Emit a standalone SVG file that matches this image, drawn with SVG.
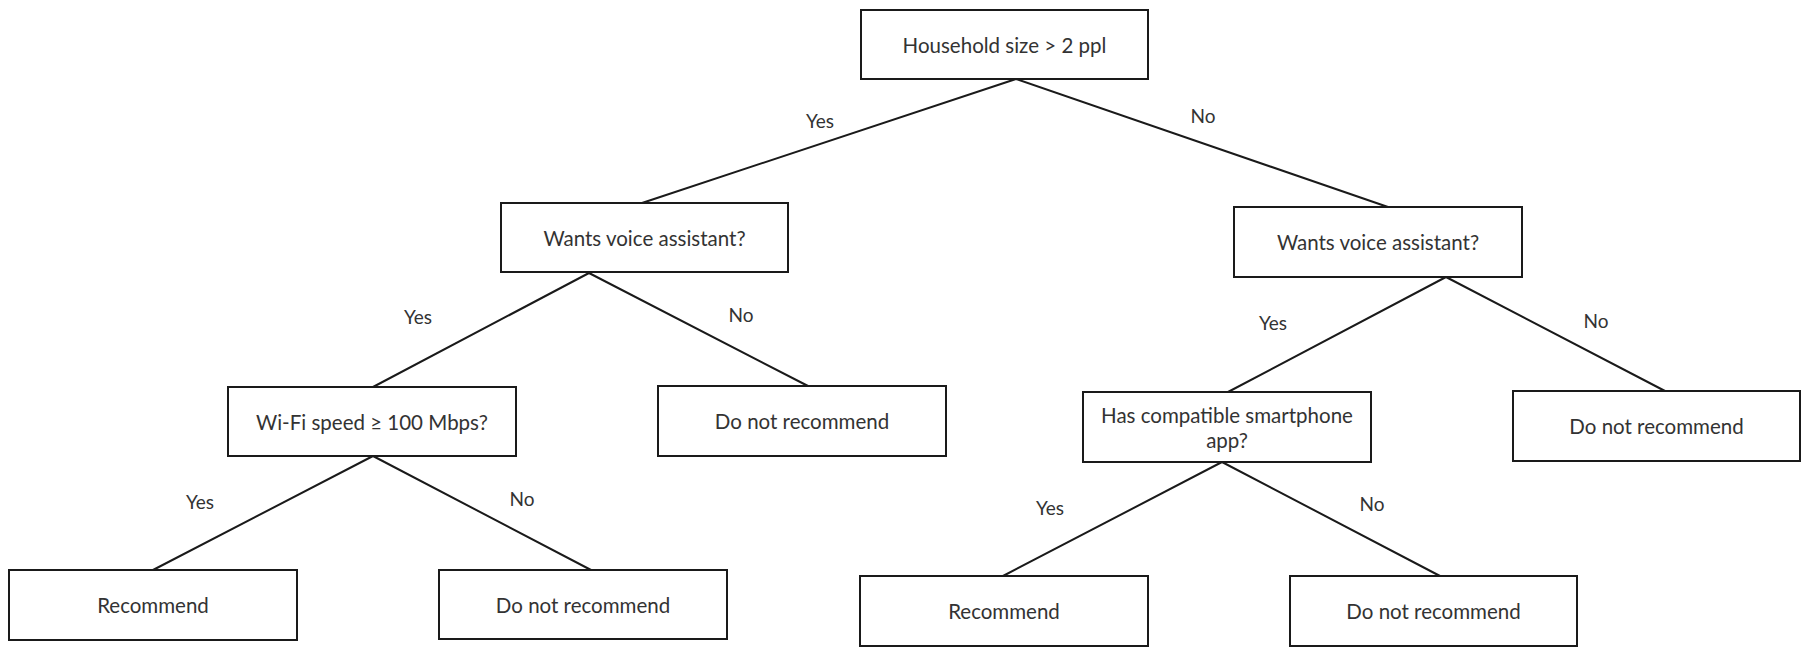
<svg xmlns="http://www.w3.org/2000/svg" width="1809" height="656" viewBox="0 0 1809 656">
<style>
.box{fill:#ffffff;stroke:#1a1a1a;stroke-width:2}
.t{font-family:Lato,"Noto Sans",sans-serif;font-size:20.5px;fill:#333333;text-anchor:middle;dominant-baseline:central}
.l{font-family:Lato,"Noto Sans",sans-serif;font-size:19px;fill:#333333;text-anchor:middle;dominant-baseline:central}
.c{stroke:#1a1a1a;stroke-width:2;fill:none;stroke-linecap:round}
</style>
<rect width="1809" height="656" fill="#ffffff"/>
<g id="connectors">
<line class="c" x1="1016" y1="79" x2="642" y2="203"/>
<line class="c" x1="1016" y1="79" x2="1388" y2="207"/>
<line class="c" x1="589" y1="273" x2="373" y2="387"/>
<line class="c" x1="589" y1="273" x2="808" y2="386"/>
<line class="c" x1="373" y1="456" x2="153" y2="570"/>
<line class="c" x1="373" y1="456" x2="591" y2="570"/>
<line class="c" x1="1446" y1="277" x2="1228" y2="392"/>
<line class="c" x1="1446" y1="277" x2="1665" y2="391"/>
<line class="c" x1="1222" y1="462" x2="1003" y2="576"/>
<line class="c" x1="1222" y1="462" x2="1440" y2="576"/>
<text class="l" x="820" y="120">Yes</text>
<text class="l" x="1203" y="115">No</text>
<text class="l" x="418" y="316">Yes</text>
<text class="l" x="741" y="314">No</text>
<text class="l" x="200" y="501">Yes</text>
<text class="l" x="522" y="498">No</text>
<text class="l" x="1273" y="322">Yes</text>
<text class="l" x="1596" y="320">No</text>
<text class="l" x="1050" y="507">Yes</text>
<text class="l" x="1372" y="503">No</text>
</g>
<g id="n1"><rect class="box" x="861" y="10" width="287" height="69"/><text class="t" x="1004.5" y="44.5">Household size &gt; 2 ppl</text></g>
<g id="n2"><rect class="box" x="501" y="203" width="287" height="69"/><text class="t" x="644.5" y="237.5">Wants voice assistant?</text></g>
<g id="n3"><rect class="box" x="1234" y="207" width="288" height="70"/><text class="t" x="1378" y="242">Wants voice assistant?</text></g>
<g id="n4"><rect class="box" x="228" y="387" width="288" height="69"/><text class="t" x="372" y="421.5">Wi-Fi speed ≥ 100 Mbps?</text></g>
<g id="n5"><rect class="box" x="658" y="386" width="288" height="70"/><text class="t" x="802" y="421">Do not recommend</text></g>
<g id="n6"><rect class="box" x="1083" y="392" width="288" height="70"/><text class="t" x="1227" y="414.5">Has compatible smartphone</text><text class="t" x="1227" y="439.5">app?</text></g>
<g id="n7"><rect class="box" x="1513" y="391" width="287" height="70"/><text class="t" x="1656.5" y="426">Do not recommend</text></g>
<g id="n8"><rect class="box" x="9" y="570" width="288" height="70"/><text class="t" x="153" y="605">Recommend</text></g>
<g id="n9"><rect class="box" x="439" y="570" width="288" height="69"/><text class="t" x="583" y="604.5">Do not recommend</text></g>
<g id="n10"><rect class="box" x="860" y="576" width="288" height="70"/><text class="t" x="1004" y="611">Recommend</text></g>
<g id="n11"><rect class="box" x="1290" y="576" width="287" height="70"/><text class="t" x="1433.5" y="611">Do not recommend</text></g>
</svg>
